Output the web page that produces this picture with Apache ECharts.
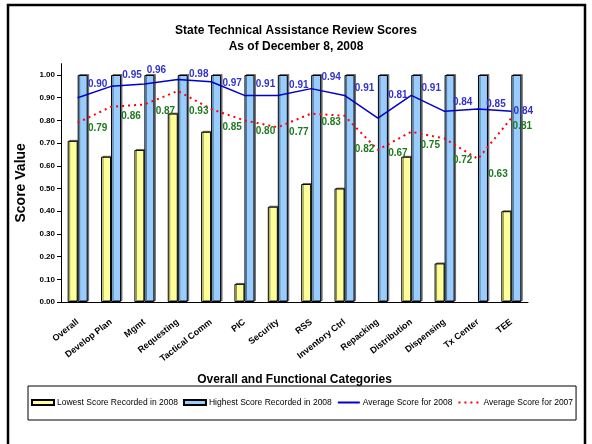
<!DOCTYPE html>
<html>
<head>
<meta charset="utf-8">
<script src="https://cdn.jsdelivr.net/npm/echarts@6/dist/echarts.min.js"></script>
<style>
  html, body { margin: 0; padding: 0; background: #fff; }
  #chart { width: 592px; height: 444px; }
</style>
</head>
<body>
<div id="chart"></div>
<script>
var categories = ['Overall', 'Develop Plan', 'Mgmt', 'Requesting', 'Tactical Comm', 'PIC', 'Security',
  'RSS', 'Inventory Ctrl', 'Repacking', 'Distribution', 'Dispensing', 'Tx Center', 'TEE'];
var lowest2008 = [0.71, 0.64, 0.67, 0.83, 0.75, 0.08, 0.42, 0.52, 0.50, null, 0.64, 0.17, null, 0.40];
var highest2008 = [1.00, 1.00, 1.00, 1.00, 1.00, 1.00, 1.00, 1.00, 1.00, 1.00, 1.00, 1.00, 1.00, 1.00];
var avg2008 = [0.90, 0.95, 0.96, 0.98, 0.97, 0.91, 0.91, 0.94, 0.91, 0.81, 0.91, 0.84, 0.85, 0.84];
var avg2007 = [0.79, 0.86, 0.87, 0.93, 0.85, 0.80, 0.77, 0.83, 0.82, 0.67, 0.75, 0.72, 0.63, 0.81];
var yTicks = [0, 0.1, 0.2, 0.3, 0.4, 0.5, 0.6, 0.7, 0.8, 0.9, 1.0];

// hand placed data labels in the original, nudges in px from each point
var labelShift2008 = [[20, -13], [21, -11], [12, -14], [21, -5], [21, 1], [21, -11], [21, -10],
  [20, -11], [20, -7], [20, -23], [20, -7], [18, -9], [18, -5], [12, 0]];
var labelShift2007 = [[20, 6], [20, 9], [21, 7], [21, 20], [21, 18], [21, 11], [21, 5],
  [20, 9], [20, 33], [20, 3], [19, 13], [18, 22], [20, 15], [11, 8]];

var font = 'Liberation Sans, Arial, sans-serif';
var chart = echarts.init(document.getElementById('chart'));

function withLabels(values, shifts) {
  return values.map(function (v, i) {
    return { value: v, label: { offset: shifts[i] } };
  });
}

function lineLabel(color) {
  return {
    show: true,
    position: 'inside',
    fontFamily: font,
    fontSize: 10,
    fontWeight: 'bold',
    color: color,
    formatter: function (p) { return p.value.toFixed(2); }
  };
}

var option = {
  animation: false,
  backgroundColor: '#fff',
  title: {
    text: 'State Technical Assistance Review Scores\nAs of December 8, 2008',
    left: 'center',
    top: 18,
    textStyle: { fontFamily: font, fontSize: 12, fontWeight: 'bold', color: '#000', lineHeight: 16 }
  },
  graphic: [
    {
      type: 'rect',
      shape: { x: 8, y: 5, width: 577, height: 460 },
      style: { fill: null, stroke: '#000', lineWidth: 2.5 },
      silent: true
    }
  ],
  legend: {
    left: 28,
    top: 386,
    width: 552,
    padding: [12, 3, 13, 3],
    borderColor: '#000',
    borderWidth: 1,
    itemWidth: 22,
    itemHeight: 5,
    itemGap: 5,
    textStyle: { fontFamily: font, fontSize: 8.5, color: '#000', padding: [0, 0, 0, -2] },
    data: [
      { name: 'Lowest Score Recorded in 2008', icon: 'rect' },
      { name: 'Highest Score Recorded in 2008', icon: 'rect' },
      { name: 'Average Score for 2008', itemStyle: { opacity: 0 } },
      { name: 'Average Score for 2007', itemStyle: { opacity: 0 } }
    ]
  },
  grid: { left: 61, right: 64, top: 63.65, bottom: 142 },
  xAxis: {
    type: 'category',
    data: categories,
    name: 'Overall and Functional Categories',
    nameLocation: 'middle',
    nameGap: 72,
    nameTextStyle: { fontFamily: font, fontSize: 12, fontWeight: 'bold', color: '#000' },
    axisLine: { lineStyle: { color: '#000', width: 1 } },
    axisTick: { length: 4, lineStyle: { color: '#000' } },
    axisLabel: {
      interval: 0,
      rotate: 38,
      margin: 19,
      fontFamily: font,
      fontSize: 9,
      fontWeight: 'bold',
      color: '#000'
    }
  },
  yAxis: {
    type: 'value',
    min: 0,
    max: 1.05,
    name: 'Score Value',
    nameLocation: 'middle',
    nameGap: 33,
    nameTextStyle: { fontFamily: font, fontSize: 14, fontWeight: 'bold', color: '#000' },
    splitLine: { show: false },
    axisLine: { show: true, lineStyle: { color: '#000', width: 1 } },
    axisTick: { show: true, length: 4, customValues: yTicks, lineStyle: { color: '#000' } },
    axisLabel: {
      customValues: yTicks,
      margin: 6,
      fontFamily: font,
      fontSize: 8,
      fontWeight: 'bold',
      color: '#000',
      formatter: function (v) { return v.toFixed(2); }
    }
  },
  series: [
    {
      name: 'Lowest Score Recorded in 2008',
      type: 'bar',
      data: lowest2008,
      barWidth: 10,
      barGap: '0%',
      itemStyle: {
        color: '#ffff99',
        borderColor: '#000',
        borderWidth: 1,
        shadowColor: 'rgba(0,0,0,0.45)',
        shadowOffsetX: 1.5,
        shadowOffsetY: -1
      }
    },
    {
      name: 'Highest Score Recorded in 2008',
      type: 'bar',
      data: highest2008,
      barWidth: 10,
      barGap: '0%',
      itemStyle: {
        color: '#99ccff',
        borderColor: '#000',
        borderWidth: 1,
        shadowColor: 'rgba(0,0,0,0.45)',
        shadowOffsetX: 1.5,
        shadowOffsetY: -1
      }
    },
    {
      name: 'Average Score for 2008',
      type: 'line',
      data: withLabels(avg2008, labelShift2008),
      z: 5,
      symbol: 'circle',
      symbolSize: 0.1,
      lineStyle: { color: '#0000cc', width: 1.5 },
      itemStyle: { color: '#0000cc' },
      label: lineLabel('#3333cc')
    },
    {
      name: 'Average Score for 2007',
      type: 'line',
      data: withLabels(avg2007, labelShift2007),
      z: 5,
      symbol: 'circle',
      symbolSize: 0.1,
      lineStyle: { color: '#ff0000', width: 2, type: [2, 4] },
      itemStyle: { color: '#ff0000' },
      label: lineLabel('#1f7a1f')
    }
  ]
};

chart.setOption(option);
</script>
</body>
</html>
